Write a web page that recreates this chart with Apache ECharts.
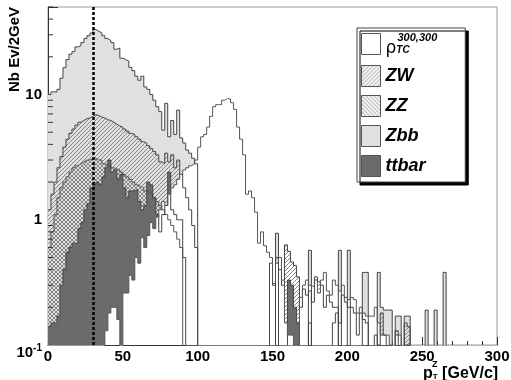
<!DOCTYPE html>
<html><head><meta charset="utf-8">
<script src="https://cdn.jsdelivr.net/npm/echarts@6/dist/echarts.min.js"></script>
<style>html,body{margin:0;padding:0;background:#fff}#c{width:511px;height:380px}</style>
</head><body><div id="c"></div>
<script>
// ---- data (bins of 2 GeV from 0 to 300 GeV) ----
const binWidth = 2;
const xMin = 0, xMax = 300, xStep = 50;
const yMin = 0.1, yMax = 50;
const yMinorTicks = [0.2,0.3,0.4,0.5,0.6,0.7,0.8,0.9,2,3,4,5,6,7,8,9,20,30,40,50];
const cutValue = 30;

const rhoTC = [
 0,0,0,0,0,0,0,0,0,0,
 0,0,0,0,0,0,0,0,0,0.13,
 0.18,0.2,0.2,0.16,0,0.26,0.26,0.36,0.33,0.5,
 0.45,0.72,0.6,0.75,0.95,0.85,1.05,1.2,1.4,1.3,
 1.6,1.8,1.9,2.1,2.3,2.5,2.6,2.7,2.8,3.0,
 3.8,4.6,4.8,5.5,6.7,8.0,8.3,8.3,9.0,9.3,
 9.2,8.6,7.6,5.5,4.4,3.3,1.6,1.7,1.5,1.15,
 0.65,0.8,0.62,0.55,0.5,0.31,0.45,0.5,0.33,0.15,
 0.12,0.12,0.1,0.1,0.24,0.3,0.33,0.3,0.29,0.33,
 0.26,0.33,0.38,0.27,0.25,0.33,0.3,0.27,0.3,0.24,
 0.23,0.24,0.23,0.18,0.2,0.18,0.17,0.17,0.17,0.2,
 0.15,0.12,0.12,0.12,0.1,0,0.12,0.12,0,0.1,
 0.1,0,0,0,0,0,0,0,0,0,
 0,0,0,0,0,0,0,0,0,0,
 0,0,0,0,0,0,0,0,0,0
];
const zbb = [
 10,10.5,10.5,11,13.5,16.4,19,21,22,24,
 24.5,26,28,29.5,31,33,32,31,29.5,28,
 27,26,23,23.5,19.5,19,18.5,16.5,15.5,14,
 13,14,11.5,11,10,9,8,7.3,5.2,8.5,
 4.6,6.2,4.8,7.5,4.5,4.1,3.6,3.4,3.1,2.8,
 0,0,0,0,0,0,0,0,0,0,
 0,0,0,0,0,0,0,0,0,0,
 0,0,0,0,0,0,0.78,0,0,0,
 0,0,0,0,0,0,0,0.57,0,0,
 0,0,0,0,0,0,0,0.57,0,0,
 0.57,0,0,0,0,0.38,0.38,0,0,0,
 0.38,0.2,0.19,0.19,0.19,0,0.17,0.17,0,0.17,
 0.17,0,0,0,0,0,0.19,0,0,0.19,
 0,0,0.38,0,0,0,0,0,0,0,
 0,0,0,0,0,0,0,0,0,0
];
const zw = [
 1.2,1.6,2.0,2.6,3.2,3.8,4.4,4.9,5.3,5.7,
 6.0,6.2,6.4,6.5,6.7,6.9,6.8,6.6,6.5,6.3,
 6.2,6.0,5.8,5.6,5.5,5.3,5.1,4.9,4.8,4.6,
 4.4,4.2,4.1,3.9,3.7,3.5,3.3,2.9,2.8,3.4,
 2.9,3.3,2.6,3.0,2.3,1.8,1.5,1.2,0.9,0.6,
 0,0,0,0,0,0,0,0,0,0,
 0,0,0,0,0,0,0,0,0,0,
 0,0,0,0,0.45,0.3,0.5,0.4,0.3,0.63,
 0.56,0.46,0.43,0.35,0.2,0.28,0.25,0.27,0.22,0.35,
 0.32,0.3,0.2,0.25,0.22,0.2,0.2,0.15,0.25,0.22,
 0.2,0.2,0.18,0.12,0.18,0.16,0.15,0,0,0.12,
 0.1,0.18,0.12,0,0,0,0.13,0,0,0.15,
 0.14,0,0,0,0,0,0,0,0,0,
 0,0,0,0,0,0,0,0,0,0,
 0,0,0,0,0,0,0,0,0,0
];
const zz = [
 0.6,0.8,1.1,1.5,1.8,2.0,2.2,2.4,2.6,2.7,
 2.8,2.9,3.0,3.0,3.1,3.1,3.0,3.0,2.8,2.75,
 2.7,2.6,2.55,2.5,2.4,2.3,2.2,2.1,2.0,1.9,
 1.85,1.8,1.7,1.65,1.6,1.5,1.4,1.3,1.2,1.1,
 1.0,0.9,0.8,0.7,0.6,0,0,0,0,0,
 0,0,0,0,0,0,0,0,0,0,
 0,0,0,0,0,0,0,0,0,0,
 0,0,0,0,0,0,0,0,0,0,
 0,0,0,0,0,0,0,0,0,0,
 0,0,0,0,0,0,0,0,0,0,
 0,0,0,0,0,0,0,0,0,0,
 0,0,0,0,0,0,0,0,0,0,
 0,0,0,0,0,0,0,0,0,0,
 0,0,0,0,0,0,0,0,0,0,
 0,0,0,0,0,0,0,0,0,0
];
const ttbar = [
 0.14,0.15,0.15,0.17,0.3,0.4,0.55,0.6,0.65,0.65,
 0.85,0.95,1.2,1.35,1.8,1.9,2.0,1.9,2.2,2.6,
 3.0,2.4,2.5,2.1,2.3,1.8,1.5,1.7,1.7,1.75,
 1.4,1.2,1.3,2.0,1.9,1.5,1.1,0.8,1.1,1.3,
 2.4,1.2,1.1,1.0,1.0,0.5,0,0,0,0,
 0,0,0,0,0,0,0,0,0,0,
 0,0,0,0,0,0,0,0,0,0,
 0,0,0,0,0,0,0,0,0,0,
 0.33,0.3,0.2,0.15,0,0,0,0.15,0,0,
 0,0,0,0,0,0.15,0.18,0,0,0,
 0,0,0,0,0,0,0,0,0,0,
 0,0,0,0,0,0,0,0,0,0,
 0,0,0,0,0,0,0,0,0,0,
 0,0,0,0,0,0,0,0,0,0,
 0,0,0,0,0,0,0,0,0,0
];

// ---- styles ----
const FONT = 'Liberation Sans';
function hatch(dir) {
  const s = 4, c = document.createElement('canvas');
  c.width = s; c.height = s;
  const g = c.getContext('2d');
  g.strokeStyle = '#7a7a7a'; g.lineWidth = 0.9;
  g.beginPath();
  if (dir === '/') {
    g.moveTo(0, s); g.lineTo(s, 0);
    g.moveTo(-1, 1); g.lineTo(1, -1);
    g.moveTo(s - 1, s + 1); g.lineTo(s + 1, s - 1);
  } else {
    g.moveTo(0, 0); g.lineTo(s, s);
    g.moveTo(-1, s - 1); g.lineTo(1, s + 1);
    g.moveTo(s - 1, -1); g.lineTo(s + 1, 1);
  }
  g.stroke();
  return { image: c, repeat: 'repeat' };
}
const fills = {
  rho: '#ffffff',
  ZW: hatch('/'),
  ZZ: hatch('\\'),
  Zbb: '#e0e0e0',
  ttbar: '#6b6b6b'
};

function stepSeries(name, vals, fill, lineColor) {
  const pos = v => (v > 0 ? v : 1e-3);
  const data = vals.map((v, i) => [xMin + i * binWidth, pos(v)]);
  data.push([xMin + vals.length * binWidth, pos(vals[vals.length - 1])]);
  return {
    name, type: 'line', step: 'end', data,
    symbol: 'none', showSymbol: false, clip: true, silent: true,
    animation: false,
    lineStyle: { color: lineColor, width: 1 },
    itemStyle: { color: lineColor },
    areaStyle: { color: fill, opacity: 1, origin: 'start' },
    emphasis: { disabled: true }
  };
}

const series = [
  stepSeries('Zbb', zbb, fills.Zbb, '#444'),
  stepSeries('ZW', zw, fills.ZW, '#444'),
  stepSeries('ZZ', zz, fills.ZZ, '#555'),
  stepSeries('ttbar', ttbar, fills.ttbar, '#444'),
  stepSeries('rho', rhoTC, fills.rho, '#555')
];
series[4].markLine = {
  silent: true, symbol: ['none', 'none'], animation: false,
  label: { show: false },
  lineStyle: { color: '#000', width: 2.5, type: [3, 2] },
  data: [{ xAxis: cutValue }]
};
series.push({
  type: 'custom', name: 'minorTicks', coordinateSystem: 'cartesian2d',
  silent: true, clip: false, z: 10, animation: false,
  data: yMinorTicks.map(v => [xMin, v]),
  renderItem: (params, api) => {
    const p = api.coord([api.value(0), api.value(1)]);
    return { type: 'line', shape: { x1: p[0], y1: p[1], x2: p[0] + 5, y2: p[1] },
             style: { stroke: '#333', lineWidth: 1 } };
  }
});

const legendNames = ['rho', 'ZW', 'ZZ', 'Zbb', 'ttbar'];

const chart = echarts.init(document.getElementById('c'), null, { renderer: 'canvas' });
chart.setOption({
  animation: false,
  backgroundColor: '#fff',
  grid: { left: 48, right: 14, top: 7, bottom: 35, show: true, borderColor: '#999', borderWidth: 1,
          containLabel: false, outerBoundsMode: 'none' },
  xAxis: {
    type: 'value', min: xMin, max: xMax, interval: xStep,
    axisLine: { show: true, onZero: false, lineStyle: { color: '#333', width: 1 } },
    axisTick: { show: true, inside: true, length: 8, lineStyle: { color: '#333' } },
    minorTick: { show: true, splitNumber: 5, length: 4, lineStyle: { color: '#333' } },
    splitLine: { show: false },
    axisLabel: { color: '#000', fontFamily: FONT, fontWeight: 'bold', fontSize: 15, margin: 4 }
  },
  yAxis: {
    type: 'log', logBase: 10, min: yMin, max: yMax,
    axisLine: { show: true, onZero: false, lineStyle: { color: '#333', width: 1 } },
    axisTick: { show: true, inside: true, length: 10, lineStyle: { color: '#333' } },
    splitLine: { show: false },
    axisLabel: {
      margin: 6, color: '#000',
      formatter: v => {
        if (Math.abs(v - 0.1) < 1e-6) return '{d|10}{e|-1}';
        if (Math.abs(v - 1) < 1e-6) return '{n|1}';
        if (Math.abs(v - 10) < 1e-6) return '{n|10}';
        return '';
      },
      rich: {
        n: { fontFamily: FONT, fontWeight: 'bold', fontSize: 15, color: '#000' },
        d: { fontFamily: FONT, fontWeight: 'bold', fontSize: 15, color: '#000', padding: [15, 0, 0, 0] },
        e: { fontFamily: FONT, fontWeight: 'bold', fontSize: 10, color: '#000', verticalAlign: 'top', padding: [13, 0, 0, 0] }
      }
    }
  },
  legend: {
    data: legendNames.map(n => ({ name: n, icon: 'rect',
      itemStyle: { color: fills[n], borderColor: '#555', borderWidth: 1 } })),
    orient: 'vertical', left: 357, top: 28,
    itemWidth: 19, itemHeight: 21, itemGap: 8,
    padding: [4, 28, 5, 4],
    backgroundColor: '#fff', borderColor: '#444', borderWidth: 1, borderRadius: 0,
    shadowColor: '#000', shadowBlur: 0, shadowOffsetX: 3, shadowOffsetY: 3,
    selectedMode: false,
    formatter: n => n === 'rho' ? '{sp| }{sup|300,300}\n{r|ρ}{sub|TC}' : n,
    textStyle: {
      fontFamily: FONT, fontSize: 18, fontWeight: 'bold', fontStyle: 'italic', color: '#000',
      rich: {
        sp: { width: 12, fontSize: 9, lineHeight: 9 },
        sup: { fontFamily: FONT, fontSize: 11, fontWeight: 'bold', fontStyle: 'italic', color: '#000', lineHeight: 9 },
        r: { fontFamily: 'DejaVu Sans', fontSize: 17, fontWeight: 'normal', fontStyle: 'normal', color: '#000', lineHeight: 13 },
        sub: { fontFamily: FONT, fontSize: 10, fontWeight: 'bold', fontStyle: 'italic', color: '#000', lineHeight: 13, verticalAlign: 'bottom' }
      }
    }
  },
  graphic: [
    { type: 'text', x: 15, y: 7, rotation: Math.PI / 2, silent: true,
      style: { text: 'Nb Ev/2GeV', font: 'bold 15px "Liberation Sans"', fill: '#000', align: 'right', verticalAlign: 'middle' } },
    { type: 'text', x: 423, y: 362, silent: true,
      style: {
        text: '{w| }{z|Z}\n{p|p}{t|T}{g| [GeV/c]}', align: 'left', verticalAlign: 'top', fill: '#000',
        rich: {
          w: { width: 9, fontSize: 8, lineHeight: 5 },
          z: { fontFamily: FONT, fontWeight: 'bold', fontSize: 9, lineHeight: 5, fill: '#000' },
          p: { fontFamily: FONT, fontWeight: 'bold', fontSize: 16, lineHeight: 14, fill: '#000' },
          t: { fontFamily: FONT, fontWeight: 'bold', fontSize: 8, lineHeight: 14, verticalAlign: 'bottom', fill: '#000' },
          g: { fontFamily: FONT, fontWeight: 'bold', fontSize: 16, lineHeight: 14, fill: '#000' }
        }
      } }
  ],
  series
});
</script></body></html>
